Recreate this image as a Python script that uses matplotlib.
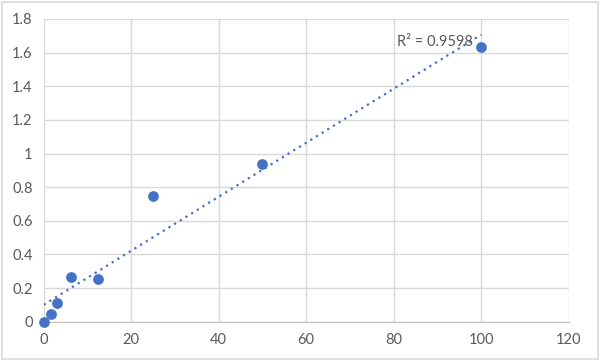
import numpy as np
import matplotlib
matplotlib.use("Agg")
import matplotlib.pyplot as plt
from matplotlib.patches import Rectangle

# Standard concentrations vs. measured OD
conc = np.array([0, 1.5625, 3.125, 6.25, 12.5, 25, 50, 100])
od = np.array([0, 0.048, 0.109, 0.266, 0.252, 0.745, 0.938, 1.633])
r2_label = "R² = 0.9598"

x_ticks = [0, 20, 40, 60, 80, 100, 120]
y_ticks = [0, 0.2, 0.4, 0.6, 0.8, 1, 1.2, 1.4, 1.6, 1.8]
y_labels = ["0", "0.2", "0.4", "0.6", "0.8", "1", "1.2", "1.4", "1.6", "1.8"]

blue = "#4472C4"
grey_txt = "#595959"
grid_c = "#D9D9D9"

plt.rcParams["font.family"] = ["Lato", "DejaVu Sans"]

fig = plt.figure(figsize=(6, 3.61), dpi=100)
ax = fig.add_axes([0.0728, 0.1089, 0.875, 0.8385])

# linear trendline
slope, intercept = np.polyfit(conc, od, 1)
xl = np.array([conc.min(), conc.max()])
ax.plot(xl, slope * xl + intercept, linestyle=(0, (1, 2)), color=blue,
        linewidth=1.6, zorder=2)

ax.scatter(conc, od, s=60, color=blue, zorder=3, linewidths=0, clip_on=False)

ax.text(80.8, 1.663, r2_label, fontsize=10.5, color=grey_txt,
        va="center", ha="left")

ax.set_xlim(0, 120)
ax.set_ylim(0, 1.8)
ax.set_xticks(x_ticks)
ax.set_yticks(y_ticks)
ax.set_yticklabels(y_labels)
ax.grid(True, color=grid_c, linewidth=1)
ax.set_axisbelow(True)
for s in ["top", "right", "left"]:
    ax.spines[s].set_visible(False)
ax.spines["bottom"].set_color("#BFBFBF")
ax.tick_params(length=0, colors=grey_txt, labelsize=10.5, pad=8)

fig.patches.append(Rectangle((0.003, 0.005), 0.994, 0.99, transform=fig.transFigure,
                             fill=False, edgecolor="#D9D9D9", linewidth=1.2))

fig.savefig("out.png", dpi=100)
